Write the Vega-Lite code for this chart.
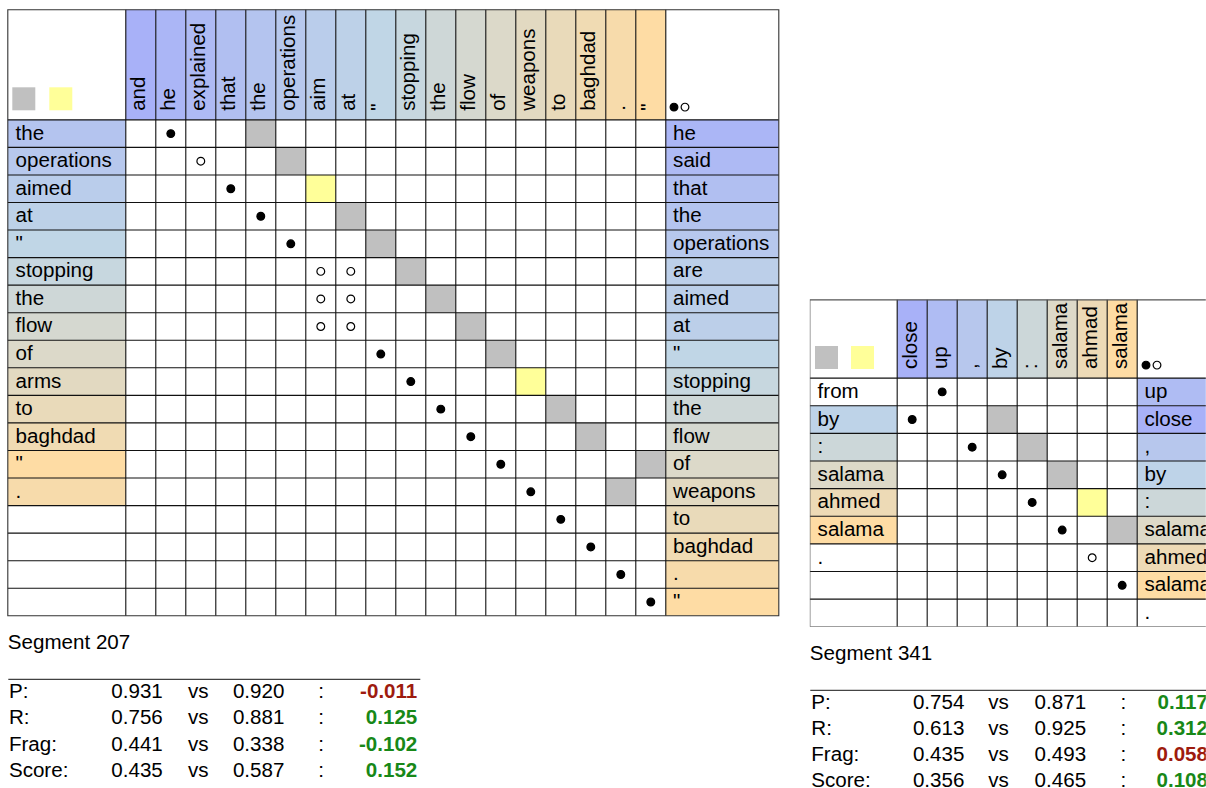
{
  "padding": {"left": 6.8, "top": 8.8, "right": 0, "bottom": 0},
  "background": "white",
  "config": {"view": {"stroke": null}, "font": "Liberation Sans", "text": {"font": "Liberation Sans", "fontSize": 20.6},
    "locale": {"number": {"decimal": ".", "thousands": ",", "grouping": [3], "currency": ["$", ""], "minus": "-"}}},
  "datasets": {
    "cols1": [{"c":1,"w":"and"},{"c":2,"w":"he"},{"c":3,"w":"explained"},{"c":4,"w":"that"},{"c":5,"w":"the"},{"c":6,"w":"operations"},{"c":7,"w":"aim"},{"c":8,"w":"at"},{"c":9,"w":"\""},{"c":10,"w":"stopping"},{"c":11,"w":"the"},{"c":12,"w":"flow"},{"c":13,"w":"of"},{"c":14,"w":"weapons"},{"c":15,"w":"to"},{"c":16,"w":"baghdad"},{"c":17,"w":"."},{"c":18,"w":"\""}],
    "left1": [{"r":1,"w":"the","a":5},{"r":2,"w":"operations","a":6},{"r":3,"w":"aimed","a":7},{"r":4,"w":"at","a":8},{"r":5,"w":"\"","a":9},{"r":6,"w":"stopping","a":10},{"r":7,"w":"the","a":11},{"r":8,"w":"flow","a":12},{"r":9,"w":"of","a":13},{"r":10,"w":"arms","a":14},{"r":11,"w":"to","a":15},{"r":12,"w":"baghdad","a":16},{"r":13,"w":"\"","a":18},{"r":14,"w":".","a":17},{"r":15,"w":"","a":null},{"r":16,"w":"","a":null},{"r":17,"w":"","a":null},{"r":18,"w":"","a":null}],
    "right1": [{"r":1,"w":"he","a":2},{"r":2,"w":"said","a":3},{"r":3,"w":"that","a":4},{"r":4,"w":"the","a":5},{"r":5,"w":"operations","a":6},{"r":6,"w":"are","a":7.5},{"r":7,"w":"aimed","a":7.5},{"r":8,"w":"at","a":7.5},{"r":9,"w":"\"","a":9},{"r":10,"w":"stopping","a":10},{"r":11,"w":"the","a":11},{"r":12,"w":"flow","a":12},{"r":13,"w":"of","a":13},{"r":14,"w":"weapons","a":14},{"r":15,"w":"to","a":15},{"r":16,"w":"baghdad","a":16},{"r":17,"w":".","a":17},{"r":18,"w":"\"","a":18}],
    "sq1": [{"r":1,"c":5,"k":"exact"},{"r":2,"c":6,"k":"exact"},{"r":3,"c":7,"k":"syn"},{"r":4,"c":8,"k":"exact"},{"r":5,"c":9,"k":"exact"},{"r":6,"c":10,"k":"exact"},{"r":7,"c":11,"k":"exact"},{"r":8,"c":12,"k":"exact"},{"r":9,"c":13,"k":"exact"},{"r":10,"c":14,"k":"syn"},{"r":11,"c":15,"k":"exact"},{"r":12,"c":16,"k":"exact"},{"r":13,"c":18,"k":"exact"},{"r":14,"c":17,"k":"exact"}],
    "dots1": [{"r":1,"c":2,"k":"filled"},{"r":2,"c":3,"k":"open"},{"r":3,"c":4,"k":"filled"},{"r":4,"c":5,"k":"filled"},{"r":5,"c":6,"k":"filled"},{"r":6,"c":7,"k":"open"},{"r":6,"c":8,"k":"open"},{"r":7,"c":7,"k":"open"},{"r":7,"c":8,"k":"open"},{"r":8,"c":7,"k":"open"},{"r":8,"c":8,"k":"open"},{"r":9,"c":9,"k":"filled"},{"r":10,"c":10,"k":"filled"},{"r":11,"c":11,"k":"filled"},{"r":12,"c":12,"k":"filled"},{"r":13,"c":13,"k":"filled"},{"r":14,"c":14,"k":"filled"},{"r":15,"c":15,"k":"filled"},{"r":16,"c":16,"k":"filled"},{"r":17,"c":17,"k":"filled"},{"r":18,"c":18,"k":"filled"}],
    "stats1": [{"m":"P:","a":0.931,"b":0.920,"d":-0.011,"ch":"worse"},{"m":"R:","a":0.756,"b":0.881,"d":0.125,"ch":"better"},{"m":"Frag:","a":0.441,"b":0.338,"d":-0.102,"ch":"better"},{"m":"Score:","a":0.435,"b":0.587,"d":0.152,"ch":"better"}],
    "cols2": [{"c":1,"w":"close"},{"c":2,"w":"up"},{"c":3,"w":","},{"c":4,"w":"by"},{"c":5,"w":":"},{"c":6,"w":"salama"},{"c":7,"w":"ahmad"},{"c":8,"w":"salama"}],
    "left2": [{"r":1,"w":"from","a":null},{"r":2,"w":"by","a":4},{"r":3,"w":":","a":5},{"r":4,"w":"salama","a":6},{"r":5,"w":"ahmed","a":7},{"r":6,"w":"salama","a":8},{"r":7,"w":".","a":null},{"r":8,"w":"","a":null},{"r":9,"w":"","a":null}],
    "right2": [{"r":1,"w":"up","a":2},{"r":2,"w":"close","a":1},{"r":3,"w":",","a":3},{"r":4,"w":"by","a":4},{"r":5,"w":":","a":5},{"r":6,"w":"salama","a":6},{"r":7,"w":"ahmed","a":7},{"r":8,"w":"salama","a":8},{"r":9,"w":".","a":null}],
    "sq2": [{"r":2,"c":4,"k":"exact"},{"r":3,"c":5,"k":"exact"},{"r":4,"c":6,"k":"exact"},{"r":5,"c":7,"k":"syn"},{"r":6,"c":8,"k":"exact"}],
    "dots2": [{"r":1,"c":2,"k":"filled"},{"r":2,"c":1,"k":"filled"},{"r":3,"c":3,"k":"filled"},{"r":4,"c":4,"k":"filled"},{"r":5,"c":5,"k":"filled"},{"r":6,"c":6,"k":"filled"},{"r":7,"c":7,"k":"open"},{"r":8,"c":8,"k":"filled"}],
    "stats2": [{"m":"P:","a":0.754,"b":0.871,"d":0.117,"ch":"better"},{"m":"R:","a":0.613,"b":0.925,"d":0.312,"ch":"better"},{"m":"Frag:","a":0.435,"b":0.493,"d":0.058,"ch":"worse"},{"m":"Score:","a":0.356,"b":0.465,"d":0.108,"ch":"better"}]
  },
  "spacing": 30,
  "hconcat": [
    {
      "spacing": 63,
      "bounds": "flush",
      "vconcat": [
        {
          "width": 771,
          "height": 606,
          "layer": [
            {"data":{"name":"cols1"},"transform":[{"calculate":"datum.c-0.5","as":"c0"},{"calculate":"datum.c+0.5","as":"c1"}],"mark":{"type":"rect"},
             "encoding":{"x":{"field":"c0","type":"quantitative","scale":{"domain":[-3.433,22.267],"nice":false,"zero":false},"axis":null},"x2":{"field":"c1"},
               "y":{"datum":-3.4935,"type":"quantitative","scale":{"domain":[-3.4935,18.5],"nice":false,"zero":false,"reverse":true},"axis":null},"y2":{"datum":0.5},
               "fill":{"field":"c","type":"quantitative","scale":{"domain":[1,9,18],"range":["#a8b1f8","#c0d6e6","#fedca4"],"interpolate":"rgb"},"legend":null}}},
            {"data":{"name":"left1"},"transform":[{"filter":"isValid(datum.a)"},{"calculate":"datum.r-0.5","as":"r0"},{"calculate":"datum.r+0.5","as":"r1"}],"mark":{"type":"rect"},
             "encoding":{"x":{"datum":-3.433,"type":"quantitative","axis":null},"x2":{"datum":0.5},"y":{"field":"r0","type":"quantitative","axis":null},"y2":{"field":"r1"},
               "fill":{"field":"a","type":"quantitative","scale":{"domain":[1,9,18],"range":["#a8b1f8","#c0d6e6","#fedca4"],"interpolate":"rgb"},"legend":null}}},
            {"data":{"name":"right1"},"transform":[{"filter":"isValid(datum.a)"},{"calculate":"datum.r-0.5","as":"r0"},{"calculate":"datum.r+0.5","as":"r1"}],"mark":{"type":"rect"},
             "encoding":{"x":{"datum":18.5,"type":"quantitative","axis":null},"x2":{"datum":22.267},"y":{"field":"r0","type":"quantitative","axis":null},"y2":{"field":"r1"},
               "fill":{"field":"a","type":"quantitative","scale":{"domain":[1,9,18],"range":["#a8b1f8","#c0d6e6","#fedca4"],"interpolate":"rgb"},"legend":null}}},
            {"data":{"name":"sq1"},"transform":[{"calculate":"datum.c-0.5","as":"c0"},{"calculate":"datum.c+0.5","as":"c1"},{"calculate":"datum.r-0.5","as":"r0"},{"calculate":"datum.r+0.5","as":"r1"}],"mark":{"type":"rect"},
             "encoding":{"x":{"field":"c0","type":"quantitative","axis":null},"x2":{"field":"c1"},"y":{"field":"r0","type":"quantitative","axis":null},"y2":{"field":"r1"},
               "fill":{"field":"k","type":"nominal","scale":{"domain":["exact","syn"],"range":["#c0c0c0","#ffff99"]},
                 "legend":{"orient":"none","legendX":4.5,"legendY":77.5,"direction":"horizontal","title":null,"labelExpr":"''","labelFontSize":1,"labelOffset":0,"symbolType":"square","symbolSize":529,"symbolStrokeWidth":0,"columnPadding":14,"padding":0,"offset":0}}}},
            {"data":{"name":"cols1"},"transform":[{"calculate":"datum.c-0.5","as":"c0"}],"mark":{"type":"rule","stroke":"#111111","strokeWidth":1.1},
             "encoding":{"x":{"field":"c0","type":"quantitative","axis":null},"y":{"datum":-3.4935,"type":"quantitative","axis":null},"y2":{"datum":18.5}}},
            {"data":{"name":"cols1"},"transform":[{"filter":"datum.c==18"},{"calculate":"datum.c+0.5","as":"c1"}],"mark":{"type":"rule","stroke":"#111111","strokeWidth":1.1},
             "encoding":{"x":{"field":"c1","type":"quantitative","axis":null},"y":{"datum":-3.4935,"type":"quantitative","axis":null},"y2":{"datum":18.5}}},
            {"data":{"name":"right1"},"transform":[{"calculate":"datum.r-0.5","as":"r0"}],"mark":{"type":"rule","stroke":"#111111","strokeWidth":1.1},
             "encoding":{"y":{"field":"r0","type":"quantitative","axis":null},"x":{"datum":-3.433,"type":"quantitative","axis":null},"x2":{"datum":22.267}}},
            {"data":{"values":[{}]},"mark":{"type":"rect","fillOpacity":0,"stroke":"#333333","strokeWidth":1.1},
             "encoding":{"x":{"datum":-3.433,"type":"quantitative","axis":null},"x2":{"datum":22.267},"y":{"datum":-3.4935,"type":"quantitative","axis":null},"y2":{"datum":18.5}}},
            {"data":{"name":"cols1"},"mark":{"type":"text","angle":270,"align":"left","baseline":"alphabetic","dx":9,"dy":4.5,"fontSize":20.6,"color":"black"},
             "encoding":{"x":{"field":"c","type":"quantitative","axis":null},"y":{"datum":0.5,"type":"quantitative","axis":null},"text":{"field":"w"}}},
            {"data":{"name":"left1"},"mark":{"type":"text","align":"left","baseline":"middle","dx":7.8,"fontSize":20.6,"color":"black"},
             "encoding":{"x":{"datum":-3.433,"type":"quantitative","axis":null},"y":{"field":"r","type":"quantitative","axis":null},"text":{"field":"w"}}},
            {"data":{"name":"right1"},"mark":{"type":"text","align":"left","baseline":"middle","dx":7.3,"fontSize":20.6,"color":"black"},
             "encoding":{"x":{"datum":18.5,"type":"quantitative","axis":null},"y":{"field":"r","type":"quantitative","axis":null},"text":{"field":"w"}}},
            {"data":{"name":"dots1"},"mark":{"type":"point","filled":true,"stroke":"black","strokeWidth":1.2,"size":60,"opacity":1},
             "encoding":{"x":{"field":"c","type":"quantitative","axis":null},"y":{"field":"r","type":"quantitative","axis":null},
               "fill":{"field":"k","type":"nominal","scale":{"domain":["filled","open"],"range":["black","white"]},
                 "legend":{"orient":"none","legendX":661.7,"legendY":92.7,"direction":"horizontal","title":null,"labelExpr":"''","labelFontSize":1,"labelOffset":0,"symbolType":"circle","symbolSize":60,"symbolStrokeColor":"black","symbolStrokeWidth":1.2,"columnPadding":-2,"padding":0,"offset":0}}}}
          ],
          "resolve": {"scale": {"fill": "independent"}, "legend": {"fill": "independent"}}
        },
        {
          "width": 412,
          "height": 109,
          "title": {"text":"Segment 207","anchor":"start","frame":"group","fontSize":20.6,"fontWeight":"normal","color":"black","font":"Liberation Sans","baseline":"alphabetic","offset":9.5},
          "data": {"name":"stats1"},
          "encoding": {"y":{"field":"m","type":"nominal","sort":null,"scale":{"type":"point","range":[19.2,98],"padding":0},"axis":null}},
          "layer": [
            {"mark":{"type":"text","align":"left","baseline":"alphabetic","fontSize":20.6,"color":"black","clip":true},
             "encoding":{"x":{"datum":1.1,"type":"quantitative","scale":{"domain":[0,412],"nice":false,"zero":false},"axis":{"orient":"top","domain":true,"domainColor":"#111111","domainWidth":1,"ticks":false,"labels":false,"grid":false,"title":null}},"text":{"field":"m"}}},
            {"mark":{"type":"text","align":"left","baseline":"alphabetic","fontSize":20.6,"color":"black","clip":true},
             "encoding":{"x":{"datum":103.5,"type":"quantitative"},"text":{"field":"a","type":"quantitative","format":".3f"}}},
            {"mark":{"type":"text","align":"left","baseline":"alphabetic","fontSize":20.6,"color":"black","clip":true},
             "encoding":{"x":{"datum":180.2,"type":"quantitative"},"text":{"value":"vs"}}},
            {"mark":{"type":"text","align":"left","baseline":"alphabetic","fontSize":20.6,"color":"black","clip":true},
             "encoding":{"x":{"datum":225.1,"type":"quantitative"},"text":{"field":"b","type":"quantitative","format":".3f"}}},
            {"mark":{"type":"text","align":"left","baseline":"alphabetic","fontSize":20.6,"color":"black","clip":true},
             "encoding":{"x":{"datum":310.4,"type":"quantitative"},"text":{"value":":"}}},
            {"mark":{"type":"text","align":"right","baseline":"alphabetic","fontSize":20.6,"fontWeight":"bold","clip":true},
             "encoding":{"x":{"datum":409.5,"type":"quantitative"},"text":{"field":"d","type":"quantitative","format":".3f"},
               "color":{"field":"ch","type":"nominal","scale":{"domain":["better","worse"],"range":["#188818","#9e1b0e"]},"legend":null}}}
          ]
        }
      ]
    },
    {
      "spacing": 63,
      "bounds": "flush",
      "vconcat": [
        {
          "width": 396,
          "height": 617,
          "layer": [
            {"data":{"name":"cols2"},"transform":[{"calculate":"datum.c-0.5","as":"c0"},{"calculate":"datum.c+0.5","as":"c1"}],"mark":{"type":"rect","clip":true},
             "encoding":{"x":{"field":"c0","type":"quantitative","scale":{"domain":[-2.413,10.787],"nice":false,"zero":false},"axis":null},"x2":{"field":"c1"},
               "y":{"datum":-2.33,"type":"quantitative","scale":{"domain":[-12.826,9.5],"nice":false,"zero":false,"reverse":true},"axis":null},"y2":{"datum":0.5},
               "fill":{"field":"c","type":"quantitative","scale":{"domain":[1,4.29,8],"range":["#a8b1f8","#c0d6e6","#fedca4"],"interpolate":"rgb"},"legend":null}}},
            {"data":{"name":"left2"},"transform":[{"filter":"isValid(datum.a)"},{"calculate":"datum.r-0.5","as":"r0"},{"calculate":"datum.r+0.5","as":"r1"}],"mark":{"type":"rect","clip":true},
             "encoding":{"x":{"datum":-2.413,"type":"quantitative","axis":null},"x2":{"datum":0.5},"y":{"field":"r0","type":"quantitative","axis":null},"y2":{"field":"r1"},
               "fill":{"field":"a","type":"quantitative","scale":{"domain":[1,4.29,8],"range":["#a8b1f8","#c0d6e6","#fedca4"],"interpolate":"rgb"},"legend":null}}},
            {"data":{"name":"right2"},"transform":[{"filter":"isValid(datum.a)"},{"calculate":"datum.r-0.5","as":"r0"},{"calculate":"datum.r+0.5","as":"r1"}],"mark":{"type":"rect","clip":true},
             "encoding":{"x":{"datum":8.5,"type":"quantitative","axis":null},"x2":{"datum":12.27},"y":{"field":"r0","type":"quantitative","axis":null},"y2":{"field":"r1"},
               "fill":{"field":"a","type":"quantitative","scale":{"domain":[1,4.29,8],"range":["#a8b1f8","#c0d6e6","#fedca4"],"interpolate":"rgb"},"legend":null}}},
            {"data":{"name":"sq2"},"transform":[{"calculate":"datum.c-0.5","as":"c0"},{"calculate":"datum.c+0.5","as":"c1"},{"calculate":"datum.r-0.5","as":"r0"},{"calculate":"datum.r+0.5","as":"r1"}],"mark":{"type":"rect","clip":true},
             "encoding":{"x":{"field":"c0","type":"quantitative","axis":null},"x2":{"field":"c1"},"y":{"field":"r0","type":"quantitative","axis":null},"y2":{"field":"r1"},
               "fill":{"field":"k","type":"nominal","scale":{"domain":["exact","syn"],"range":["#c0c0c0","#ffff99"]},
                 "legend":{"orient":"none","legendX":5.2,"legendY":336.2,"direction":"horizontal","title":null,"labelExpr":"''","labelFontSize":1,"labelOffset":0,"symbolType":"square","symbolSize":529,"symbolStrokeWidth":0,"columnPadding":13,"padding":0,"offset":0}}}},
            {"data":{"name":"cols2"},"transform":[{"calculate":"datum.c-0.5","as":"c0"}],"mark":{"type":"rule","stroke":"#111111","strokeWidth":1.1,"clip":true},
             "encoding":{"x":{"field":"c0","type":"quantitative","axis":null},"y":{"datum":-2.33,"type":"quantitative","axis":null},"y2":{"datum":9.5}}},
            {"data":{"name":"cols2"},"transform":[{"filter":"datum.c==8"},{"calculate":"datum.c+0.5","as":"c1"}],"mark":{"type":"rule","stroke":"#111111","strokeWidth":1.1,"clip":true},
             "encoding":{"x":{"field":"c1","type":"quantitative","axis":null},"y":{"datum":-2.33,"type":"quantitative","axis":null},"y2":{"datum":9.5}}},
            {"data":{"name":"right2"},"transform":[{"calculate":"datum.r-0.5","as":"r0"}],"mark":{"type":"rule","stroke":"#111111","strokeWidth":1.1,"clip":true},
             "encoding":{"y":{"field":"r0","type":"quantitative","axis":null},"x":{"datum":-2.413,"type":"quantitative","axis":null},"x2":{"datum":12.27}}},
            {"data":{"values":[{}]},"mark":{"type":"rect","fillOpacity":0,"stroke":"#555555","strokeWidth":1.2,"clip":true},
             "encoding":{"x":{"datum":-2.413,"type":"quantitative","axis":null},"x2":{"datum":12.27},"y":{"datum":-2.33,"type":"quantitative","axis":null},"y2":{"datum":9.5}}},
            {"data":{"name":"cols2"},"mark":{"type":"text","angle":270,"align":"left","baseline":"alphabetic","dx":9,"dy":4.5,"fontSize":20.6,"color":"black","clip":true},
             "encoding":{"x":{"field":"c","type":"quantitative","axis":null},"y":{"datum":0.5,"type":"quantitative","axis":null},"text":{"field":"w"}}},
            {"data":{"name":"left2"},"mark":{"type":"text","align":"left","baseline":"middle","dx":7.8,"fontSize":20.6,"color":"black","clip":true},
             "encoding":{"x":{"datum":-2.413,"type":"quantitative","axis":null},"y":{"field":"r","type":"quantitative","axis":null},"text":{"field":"w"}}},
            {"data":{"name":"right2"},"mark":{"type":"text","align":"left","baseline":"middle","dx":7.3,"fontSize":20.6,"color":"black","clip":true},
             "encoding":{"x":{"datum":8.5,"type":"quantitative","axis":null},"y":{"field":"r","type":"quantitative","axis":null},"text":{"field":"w"}}},
            {"data":{"name":"dots2"},"mark":{"type":"point","filled":true,"stroke":"black","strokeWidth":1.2,"size":60,"opacity":1,"clip":true},
             "encoding":{"x":{"field":"c","type":"quantitative","axis":null},"y":{"field":"r","type":"quantitative","axis":null},
               "fill":{"field":"k","type":"nominal","scale":{"domain":["filled","open"],"range":["black","white"]},
                 "legend":{"orient":"none","legendX":331.7,"legendY":350.7,"direction":"horizontal","title":null,"labelExpr":"''","labelFontSize":1,"labelOffset":0,"symbolType":"circle","symbolSize":60,"symbolStrokeColor":"black","symbolStrokeWidth":1.2,"columnPadding":-2,"padding":0,"offset":0}}}}
          ],
          "resolve": {"scale": {"fill": "independent"}, "legend": {"fill": "independent"}}
        },
        {
          "width": 396,
          "height": 98,
          "title": {"text":"Segment 341","anchor":"start","frame":"group","fontSize":20.6,"fontWeight":"normal","color":"black","font":"Liberation Sans","baseline":"alphabetic","offset":9.5},
          "data": {"name":"stats2"},
          "encoding": {"y":{"field":"m","type":"nominal","sort":null,"scale":{"type":"point","range":[19,97.4],"padding":0},"axis":null}},
          "layer": [
            {"mark":{"type":"text","align":"left","baseline":"alphabetic","fontSize":20.6,"color":"black","clip":true},
             "encoding":{"x":{"datum":1.5,"type":"quantitative","scale":{"domain":[0,396],"nice":false,"zero":false},"axis":{"orient":"top","domain":true,"domainColor":"#444444","domainWidth":1.2,"ticks":false,"labels":false,"grid":false,"title":null}},"text":{"field":"m"}}},
            {"mark":{"type":"text","align":"left","baseline":"alphabetic","fontSize":20.6,"color":"black","clip":true},
             "encoding":{"x":{"datum":103.1,"type":"quantitative"},"text":{"field":"a","type":"quantitative","format":".3f"}}},
            {"mark":{"type":"text","align":"left","baseline":"alphabetic","fontSize":20.6,"color":"black","clip":true},
             "encoding":{"x":{"datum":178.4,"type":"quantitative"},"text":{"value":"vs"}}},
            {"mark":{"type":"text","align":"left","baseline":"alphabetic","fontSize":20.6,"color":"black","clip":true},
             "encoding":{"x":{"datum":224.8,"type":"quantitative"},"text":{"field":"b","type":"quantitative","format":".3f"}}},
            {"mark":{"type":"text","align":"left","baseline":"alphabetic","fontSize":20.6,"color":"black","clip":true},
             "encoding":{"x":{"datum":310.6,"type":"quantitative"},"text":{"value":":"}}},
            {"mark":{"type":"text","align":"right","baseline":"alphabetic","fontSize":20.6,"fontWeight":"bold","clip":true},
             "encoding":{"x":{"datum":398.2,"type":"quantitative"},"text":{"field":"d","type":"quantitative","format":".3f"},
               "color":{"field":"ch","type":"nominal","scale":{"domain":["better","worse"],"range":["#188818","#9e1b0e"]},"legend":null}}}
          ]
        }
      ]
    }
  ]
}
